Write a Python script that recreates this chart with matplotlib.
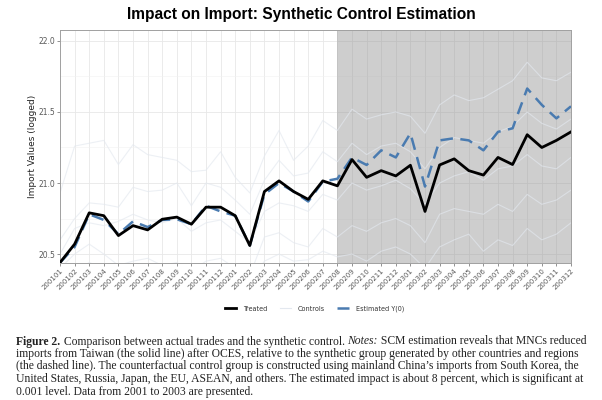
import matplotlib
matplotlib.use("Agg")
import matplotlib.pyplot as plt
import numpy as np

# ------------------------------
# Data
# ------------------------------

years = ["2001", "2002", "2003"]
months = ["01", "02", "03", "04", "05", "06", "07", "08", "09", "10", "11", "12"]
periods = [y + m for y in years for m in months]
treat_start = "200208"

treated = [20.44, 20.57, 20.79, 20.77, 20.63, 20.70, 20.67, 20.745, 20.76, 20.71,
           20.83, 20.83, 20.77, 20.56, 20.94, 21.015, 20.94, 20.885, 21.015, 20.98,
           21.165, 21.04, 21.087, 21.05, 21.125, 20.80, 21.127, 21.17, 21.087, 21.056,
           21.18, 21.13, 21.34, 21.25, 21.30, 21.36]

estimated = [20.44, 20.55, 20.78, 20.74, 20.64, 20.73, 20.69, 20.74, 20.745, 20.71,
             20.84, 20.80, 20.77, 20.56, 20.92, 21.00, 20.94, 20.87, 21.01, 21.03,
             21.18, 21.127, 21.23, 21.18, 21.35, 20.975, 21.30, 21.315, 21.30, 21.23,
             21.36, 21.385, 21.665, 21.55, 21.455, 21.54]

control_a = [20.93, 21.26, 21.28, 21.30, 21.13, 21.27, 21.20, 21.18, 21.16, 21.08,
             21.09, 21.22, 21.04, 20.93, 21.19, 21.37, 21.16, 21.26, 21.44, 21.37,
             21.52, 21.45, 21.48, 21.50, 21.47, 21.35, 21.55, 21.62, 21.58, 21.60,
             21.66, 21.72, 21.85, 21.74, 21.72, 21.78]
control_b = [20.60, 20.75, 20.86, 20.85, 20.83, 20.97, 20.94, 20.95, 21.00, 20.84,
             21.00, 20.97, 20.88, 20.78, 21.02, 21.16, 21.05, 21.07, 21.22, 21.15,
             21.28, 21.20, 21.26, 21.28, 21.22, 21.10, 21.25, 21.32, 21.30, 21.28,
             21.36, 21.40, 21.50, 21.42, 21.38, 21.45]
control_c = [20.50, 20.68, 20.72, 20.70, 20.73, 20.78, 20.74, 20.72, 20.75, 20.66,
             20.72, 20.74, 20.66, 20.58, 20.80, 20.86, 20.84, 20.80, 20.92, 20.88,
             21.00, 20.95, 20.98, 21.02, 20.96, 20.85, 21.00, 21.05, 21.08, 21.02,
             21.10, 21.12, 21.20, 21.12, 21.10, 21.18]
control_d = [20.40, 20.50, 20.57, 20.50, 20.42, 20.45, 20.47, 20.42, 20.44, 20.38,
             20.45, 20.47, 20.40, 20.35, 20.62, 20.65, 20.58, 20.55, 20.68, 20.62,
             20.70, 20.66, 20.72, 20.75, 20.70, 20.58, 20.78, 20.82, 20.80, 20.78,
             20.85, 20.80, 20.92, 20.85, 20.88, 20.95]
control_e = [20.30, 20.38, 20.44, 20.40, 20.35, 20.38, 20.42, 20.36, 20.40, 20.32,
             20.42, 20.40, 20.35, 20.30, 20.45, 20.50, 20.45, 20.46, 20.52, 20.48,
             20.50, 20.45, 20.52, 20.55, 20.50, 20.40, 20.55, 20.60, 20.64, 20.52,
             20.60, 20.56, 20.68, 20.60, 20.64, 20.72]
controls = [control_a, control_b, control_c, control_d, control_e]

y_ticks = [20.5, 21.0, 21.5, 22.0]

# first caption line is split by font style
caption_first = [
    ("Figure 2.", "bold", "normal"),
    (" Comparison between actual trades and the synthetic control. ", "normal", "normal"),
    ("Notes:", "normal", "italic"),
    (" SCM estimation reveals that MNCs reduced", "normal", "normal"),
]
caption_rest = [
    "imports from Taiwan (the solid line) after OCES, relative to the synthetic group generated by other countries and regions",
    "(the dashed line). The counterfactual control group is constructed using mainland China\u2019s imports from South Korea, the",
    "United States, Russia, Japan, the EU, ASEAN, and others. The estimated impact is about 8 percent, which is significant at",
    "0.001 level. Data from 2001 to 2003 are presented.",
]

# ------------------------------
# Figure
# ------------------------------

fig = plt.figure(figsize=(6.02, 4.0), dpi=100)
ax = fig.add_axes([0.0997, 0.3425, 0.8488, 0.5825])

x = np.arange(len(periods))
t0 = periods.index(treat_start)

# grid like ggplot theme_bw
ax.set_axisbelow(True)
ax.set_xticks(x)
ax.set_yticks(y_ticks)
ax.set_yticks([20.75, 21.25, 21.75], minor=True)
ax.grid(True, which="major", color="#E8E8E8", lw=0.6)
ax.grid(True, which="minor", axis="y", color="#F2F2F2", lw=0.4)

# treatment period shading
ax.axvspan(t0, len(periods) - 1, color="#8C8C8C", alpha=0.42, lw=0, zorder=1)

for i, c in enumerate(controls):
    ax.plot(x, c, color="#E3E8EF", alpha=0.65, lw=0.8, zorder=2,
            label="Controls" if i == 0 else None)

ax.plot(x, treated, color="black", lw=2.0, zorder=4, label="Treated")
ax.plot(x, estimated, color="#4A7BB0", lw=1.8, ls=(0, (5, 3)), zorder=3,
        label="Estimated Y(0)")

ax.set_xlim(0, len(periods) - 1)
ax.set_ylim(20.437, 22.077)

ax.set_xticklabels(periods, rotation=45, ha="right", rotation_mode="anchor",
                   fontsize=5, color="#5A5A5A")
ax.tick_params(axis="y", labelsize=5.5, labelcolor="#5A5A5A", length=2,
               width=0.5, color="#666666", pad=1.5)
ax.tick_params(axis="x", length=2, width=0.5, color="#666666", pad=1.5)
ax.tick_params(which="minor", length=0)
for s in ax.spines.values():
    s.set_color("#A0A0A0")
    s.set_linewidth(0.7)

ax.set_ylabel("Import Values (logged)", fontsize=6.5, color="#222222", labelpad=1)

fig.text(0.5, 0.9625, "Impact on Import: Synthetic Control Estimation",
         ha="center", va="center", fontsize=11.2, weight="bold",
         family="Liberation Sans")

# legend, ordered like the reference
handles, labels = ax.get_legend_handles_labels()
order = [labels.index("Treated"), labels.index("Controls"), labels.index("Estimated Y(0)")]
leg = fig.legend([handles[i] for i in order], [labels[i] for i in order],
                 loc="center", bbox_to_anchor=(0.522, 0.2275), ncol=3, frameon=False,
                 fontsize=4.7, handlelength=1.7, columnspacing=1.9, handletextpad=1.1,
                 labelcolor="#333333")
leg.legend_handles[1].set_alpha(1.0)

# ------------------------------
# Caption
# ------------------------------

fig.canvas.draw()
renderer = fig.canvas.get_renderer()
fig_w = fig.bbox.width
x_left, x_right = 16.5, 583.0
line_y = [344.5, 357.0, 369.5, 382.0, 394.5]


def piece_width(text, fs, weight="normal", style="normal"):
    t = fig.text(0, 0, text, fontsize=fs, family="Liberation Serif",
                 weight=weight, style=style)
    w = t.get_window_extent(renderer).width
    t.remove()
    return w


# pick a font size so the longest line fits the text block
probe_fs = 8.0
widths = [piece_width(line, probe_fs) for line in caption_rest[:-1]]
widths.append(sum(piece_width(p, probe_fs, wt, st) for p, wt, st in caption_first))
cap_fs = probe_fs * (x_right - x_left) / max(widths)

xp = x_left
for piece, weight, style in caption_first:
    t = fig.text(xp / fig_w, 1 - line_y[0] / 400.0, piece, fontsize=cap_fs,
                 family="Liberation Serif", weight=weight, style=style,
                 va="baseline", ha="left", color="#222222")
    xp += t.get_window_extent(renderer).width

for n, line in enumerate(caption_rest):
    fig.text(x_left / fig_w, 1 - line_y[n + 1] / 400.0, line, fontsize=cap_fs,
             family="Liberation Serif", va="baseline", ha="left", color="#222222")

fig.savefig("out.png", dpi=100)
